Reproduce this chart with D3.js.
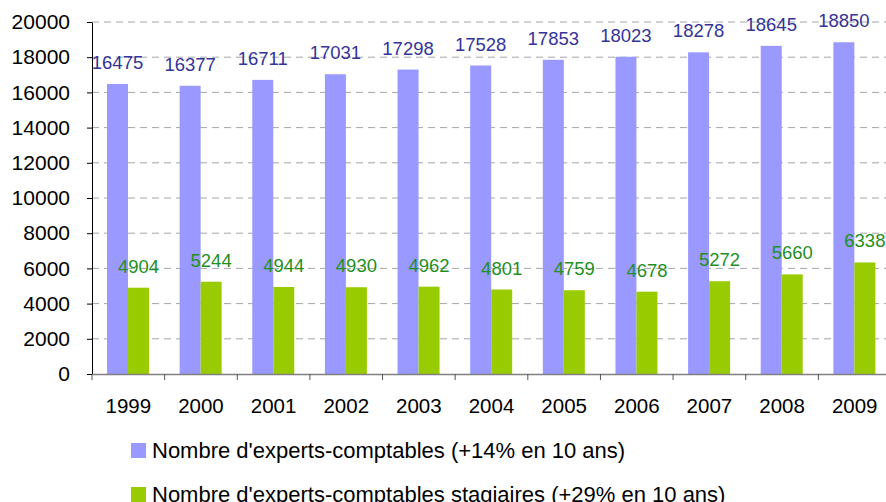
<!DOCTYPE html>
<html>
<head>
<meta charset="utf-8">
<script src="https://cdn.jsdelivr.net/npm/d3@7"></script>
<style>
  body { margin: 0; background: #fff; }
  svg { display: block; font-family: "Liberation Sans", Arial, sans-serif; }
</style>
</head>
<body>
<script>
var years = ["1999","2000","2001","2002","2003","2004","2005","2006","2007","2008","2009"];
var experts = [16475,16377,16711,17031,17298,17528,17853,18023,18278,18645,18850];
var stagiaires = [4904,5244,4944,4930,4962,4801,4759,4678,5272,5660,6338];
var yTicks = [0,2000,4000,6000,8000,10000,12000,14000,16000,18000,20000];
var seriesNames = ["Nombre d'experts-comptables (+14% en 10 ans)",
                   "Nombre d'experts-comptables stagiaires (+29% en 10 ans)"];

function drawChart(){
var W = 886, H = 502;
var mLeft = 92, mBottom = 374, mTop = 22, mRight = 891;

var svg = d3.select("body").append("svg")
    .attr("width", W)
    .attr("height", H);

var x0 = d3.scaleBand().domain(years).range([mLeft, mRight]).padding(0);
var x1 = d3.scaleBand().domain([0, 1]).range([15, 57]);
var y = d3.scaleLinear().domain([0, 20000]).range([mBottom, mTop]);

var colors = ["#9999ff", "#99cc00"];
var textColors = ["#333399", "#1f8f1f"];

// grid
svg.append("g").selectAll("line")
  .data(yTicks.slice(1))
  .enter().append("line")
    .attr("x1", mLeft).attr("x2", W)
    .attr("y1", function(d){ return y(d); })
    .attr("y2", function(d){ return y(d); })
    .attr("stroke", "#a6a6a6")
    .attr("stroke-width", 1)
    .attr("stroke-dasharray", "7,5");

// bars
var series = [experts, stagiaires];
series.forEach(function(vals, s){
  svg.append("g").selectAll("rect")
    .data(vals)
    .enter().append("rect")
      .attr("x", function(d, i){ return x0(years[i]) + x1(s); })
      .attr("width", x1.bandwidth())
      .attr("y", function(d){ return y(d); })
      .attr("height", function(d){ return mBottom - y(d); })
      .attr("fill", colors[s]);

  svg.append("g").selectAll("text")
    .data(vals)
    .enter().append("text")
      .attr("x", function(d, i){ return x0(years[i]) + x1(s) + x1.bandwidth()/2; })
      .attr("y", function(d){ return y(d) - 15; })
      .attr("text-anchor", "middle")
      .attr("font-size", 18.5)
      .attr("fill", textColors[s])
      .text(function(d){ return d; });
});

// y axis
var yAxis = svg.append("g")
    .attr("transform", "translate(" + mLeft + ",0)")
    .call(d3.axisLeft(y).tickValues(yTicks).tickFormat(d3.format("d")).tickSize(5).tickPadding(17).tickSizeOuter(0));
yAxis.select(".domain").attr("stroke", "#000");
yAxis.selectAll(".tick line").attr("stroke", "#000");
yAxis.selectAll("text").attr("font-size", 21).attr("fill", "#000")
    .attr("font-family", "Liberation Sans, Arial, sans-serif");

// x axis
var xAxis = svg.append("g")
    .attr("transform", "translate(0," + mBottom + ")")
    .call(d3.axisBottom(x0).tickSize(0).tickPadding(24));
xAxis.select(".domain").attr("stroke", "#808080").attr("stroke-width", 1.5);
xAxis.selectAll("text").attr("font-size", 20.5).attr("fill", "#000")
    .attr("font-family", "Liberation Sans, Arial, sans-serif");

// band boundary ticks
svg.append("g").selectAll("line")
  .data(years)
  .enter().append("line")
    .attr("x1", function(d){ return x0(d); })
    .attr("x2", function(d){ return x0(d); })
    .attr("y1", mBottom).attr("y2", mBottom + 6)
    .attr("stroke", "#555");

// legend
var legend = svg.append("g").selectAll("g")
  .data(seriesNames)
  .enter().append("g")
    .attr("transform", function(d, i){ return "translate(131," + (443 + i*44) + ")"; });
legend.append("rect")
    .attr("width", 15).attr("height", 15)
    .attr("fill", function(d, i){ return colors[i]; });
legend.append("text")
    .attr("x", 21).attr("y", 15)
    .attr("font-size", 22)
    .attr("fill", "#000")
    .text(function(d){ return d; });
}
drawChart();
</script>
</body>
</html>
